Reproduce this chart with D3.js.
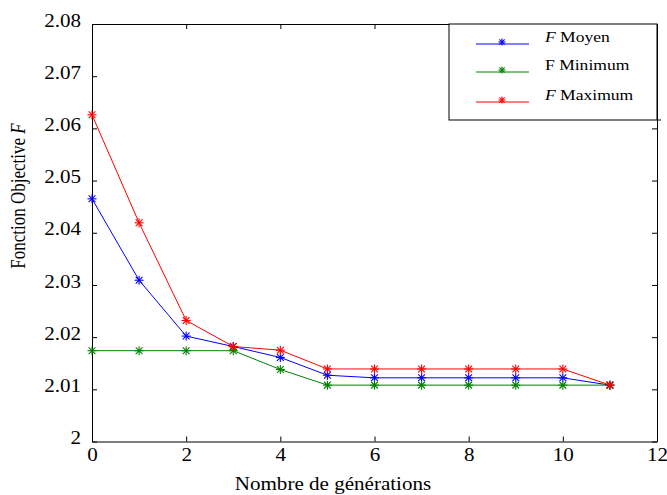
<!DOCTYPE html>
<html lang="fr">
<head>
    <meta charset="UTF-8">
    <title>Fonction Objective</title>
    <script src="https://d3js.org/d3.v7.min.js"></script>
    <style>
        body { margin: 0; background: #fff; }
        text { font-family: "Liberation Serif", "Times New Roman", serif; fill: #000; }
    </style>
</head>
<body>
    <script>
var generations = [0, 1, 2, 3, 4, 5, 6, 7, 8, 9, 10, 11];
var moyen   = [2.0465, 2.0309, 2.0202, 2.0182, 2.0161, 2.0127, 2.0122, 2.0122, 2.0122, 2.0122, 2.0122, 2.0108];
var minimum = [2.0174, 2.0174, 2.0174, 2.0174, 2.0138, 2.0108, 2.0108, 2.0108, 2.0108, 2.0108, 2.0108, 2.0108];
var maximum = [2.0626, 2.0419, 2.0232, 2.0182, 2.0175, 2.0139, 2.0139, 2.0139, 2.0139, 2.0139, 2.0139, 2.0108];
var xTicks = [0, 2, 4, 6, 8, 10, 12];
var yTicks = [2, 2.01, 2.02, 2.03, 2.04, 2.05, 2.06, 2.07, 2.08];

var series = [
    { name: 'Moyen', values: moyen, color: '#0000ff', italic: true },
    { name: 'Minimum', values: minimum, color: '#008000', italic: false },
    { name: 'Maximum', values: maximum, color: '#ff0000', italic: true }
];

var width = 667, height = 495;
// plot box (names avoid window.top)
var pLeft = 92, pRight = 657, pTop = 24, pBottom = 441.5;

var svg = d3.select('body').append('svg')
    .attr('width', width)
    .attr('height', height);

var x = d3.scaleLinear().domain([0, 12]).range([pLeft, pRight]);
var y = d3.scaleLinear().domain([2, 2.08]).range([pBottom, pTop]);

var yFmt = function(d) { return d === 2 ? '2' : d3.format('.2f')(d); };

// axes, ticks pointing inward like matlab
svg.append('g')
    .attr('transform', 'translate(0,' + pBottom + ')')
    .call(d3.axisBottom(x).tickValues(xTicks).tickFormat(d3.format('d'))
        .tickSizeInner(-5).tickSizeOuter(0).tickPadding(7));

var gy = svg.append('g')
    .attr('transform', 'translate(' + pLeft + ',0)')
    .call(d3.axisLeft(y).tickValues(yTicks).tickFormat(yFmt)
        .tickSizeInner(-5).tickSizeOuter(0).tickPadding(11));
gy.selectAll('text').attr('dy', '0.12em');

svg.append('g')
    .attr('transform', 'translate(0,' + pTop + ')')
    .call(d3.axisTop(x).tickValues(xTicks).tickFormat('')
        .tickSizeInner(-5).tickSizeOuter(0));

svg.append('g')
    .attr('transform', 'translate(' + pRight + ',0)')
    .call(d3.axisRight(y).tickValues(yTicks).tickFormat('')
        .tickSizeInner(-5).tickSizeOuter(0));

svg.selectAll('.domain, .tick line').attr('stroke', '#000').attr('stroke-width', 1);
svg.selectAll('.tick text').style('font-size', '18px')
    .style('font-family', '"Liberation Serif", serif');

// asterisk marker
function star(sel, cx, cy, r, color) {
    var g = sel.append('g').attr('transform', 'translate(' + cx + ',' + cy + ')')
        .attr('stroke', color).attr('stroke-width', 1.1);
    g.append('line').attr('x1', -r).attr('x2', r).attr('y1', 0).attr('y2', 0);
    g.append('line').attr('x1', 0).attr('x2', 0).attr('y1', -r).attr('y2', r);
    var k = r * 0.75;
    g.append('line').attr('x1', -k).attr('x2', k).attr('y1', -k).attr('y2', k);
    g.append('line').attr('x1', -k).attr('x2', k).attr('y1', k).attr('y2', -k);
}

var line = d3.line()
    .x(function(d, i) { return x(generations[i]); })
    .y(function(d) { return y(d); });

series.forEach(function(s) {
    svg.append('path')
        .datum(s.values)
        .attr('d', line)
        .attr('fill', 'none')
        .attr('stroke', s.color)
        .attr('stroke-width', 1);
    s.values.forEach(function(v, i) {
        star(svg, x(generations[i]), y(v), 4.5, s.color);
    });
});

// legend
var lg = svg.append('g');
lg.append('rect')
    .attr('x', 449).attr('y', pTop)
    .attr('width', pRight - 449).attr('height', 120 - pTop)
    .attr('fill', '#fff').attr('stroke', '#000').attr('stroke-width', 1);
lg.append('line') // bottom edge runs a bit past the box
    .attr('x1', pRight).attr('x2', 661)
    .attr('y1', 120).attr('y2', 120)
    .attr('stroke', '#000');
var legendRows = [44, 72, 102];
series.forEach(function(s, i) {
    var ly = legendRows[i];
    lg.append('line')
        .attr('x1', 476).attr('x2', 529)
        .attr('y1', ly).attr('y2', ly)
        .attr('stroke', s.color).attr('stroke-width', 1);
    star(lg, 502, ly - 2, 3.5, s.color);
    var t = lg.append('text')
        .attr('x', 545).attr('y', ly - 2)
        .style('font-size', '15px');
    t.append('tspan').text('F').style('font-style', s.italic ? 'italic' : 'normal');
    t.append('tspan').text(' ' + s.name);
});

// axis titles
svg.append('text')
    .attr('x', 333).attr('y', 490)
    .attr('text-anchor', 'middle')
    .style('font-size', '18px')
    .text('Nombre de générations');

var yt = svg.append('text')
    .attr('transform', 'translate(25,196) rotate(-90) scale(1,1.17)')
    .attr('text-anchor', 'middle')
    .style('font-size', '17px');
yt.append('tspan').text('Fonction Objective ');
yt.append('tspan').text('F').style('font-style', 'italic');

// the picture is a bit stretched sideways, widen horizontal texts
svg.selectAll('text').each(function() {
    if (this.getAttribute('transform')) return;
    var w = this.getComputedTextLength();
    d3.select(this).attr('textLength', w * 1.17).attr('lengthAdjust', 'spacingAndGlyphs');
});
    </script>
</body>
</html>
